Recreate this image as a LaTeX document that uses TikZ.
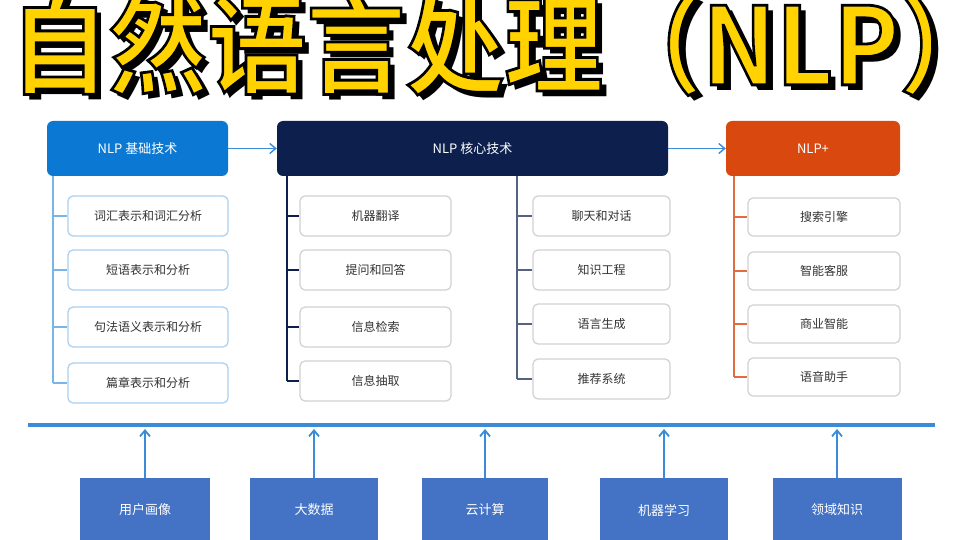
\documentclass[tikz,border=0pt]{standalone}
\usepackage{fontspec}
\setmainfont{Noto Sans CJK SC}
\newfontfamily\cjkb{Noto Sans CJK SC}[BoldFont=* Bold]
\usetikzlibrary{arrows.meta}
\definecolor{cblue}{HTML}{0B78D4}
\definecolor{cnavy}{HTML}{0C1F4D}
\definecolor{corange}{HTML}{D9480F}
\definecolor{cline}{HTML}{3A8BD8}
\definecolor{cbox}{HTML}{4472C4}
\definecolor{cyel}{HTML}{FFD200}
\begin{document}
\begin{tikzpicture}[x=1pt,y=-1pt,
 head/.style={rounded corners=6pt,text=white,font=\fontsize{13}{15}\selectfont,inner sep=0},
 child/.style={rounded corners=5pt,fill=white,draw=#1,line width=1.2pt,font=\fontsize{12}{14}\selectfont,text=black!80,inner sep=0},
 spine/.style={line width=1.6pt,draw=#1},
 bot/.style={fill=cbox,text=white,font=\fontsize{13}{15}\selectfont,inner sep=0},
 arr/.style={-{Straight Barb[length=6pt,width=10pt]},line width=1.8pt,draw=cline},
 ttl/.style={anchor=center,inner sep=0,xscale=1.03,yscale=1.12,font=\cjkb\bfseries\fontsize{96}{100}\selectfont}]
\useasboundingbox (0,0) rectangle (960,540);
\fill[white] (0,0) rectangle (960,540);
% title
\node[ttl,text=black] (tshadow) at (510,50) {自然语言处理（NLP）};
\node[ttl,text=cyel] (title) at (504,44) {\special{pdf:literal direct 2 Tr 2.5 w 0 0 0 RG}自然语言处理（NLP）\special{pdf:literal direct 0 Tr}};
% headers
\node[head,fill=cblue,minimum width=181pt,minimum height=55pt] (h1) at (137.5,148.5) {NLP 基础技术};
\node[head,fill=cnavy,minimum width=391pt,minimum height=55pt] (h2) at (472.5,148.5) {NLP 核心技术};
\node[head,fill=corange,minimum width=174pt,minimum height=55pt] (h3) at (813,148.5) {NLP+};
\draw[arr,line width=1.4pt] (h1) -- (h2);
\draw[arr,line width=1.4pt] (h2) -- (h3);
% column 1
\coordinate (s1) at (53,176);
\foreach \t [count=\i] in {词汇表示和词汇分析,短语表示和分析,句法语义表示和分析,篇章表示和分析}{
  \pgfmathsetmacro\yy{{216,270,327,383}[\i-1]}
  \node[child=cblue!35,minimum width=160pt,minimum height=40pt] (a\i) at (148,\yy) {\t};
  \draw[spine=cblue!55] (53,\yy) -- (a\i.west);
}
\draw[spine=cblue!55] (s1) -- (53,383);
% column 2a
\coordinate (s2) at (287,176);
\foreach \t [count=\i] in {机器翻译,提问和回答,信息检索,信息抽取}{
  \pgfmathsetmacro\yy{{216,270,327,381}[\i-1]}
  \node[child=black!18,minimum width=151pt,minimum height=40pt] (b\i) at (375.5,\yy) {\t};
  \draw[spine=cnavy] (287,\yy) -- (b\i.west);
}
\draw[spine=cnavy] (s2) -- (287,381);
% column 2b
\coordinate (s3) at (517,176);
\foreach \t [count=\i] in {聊天和对话,知识工程,语言生成,推荐系统}{
  \pgfmathsetmacro\yy{{216,270,324,379}[\i-1]}
  \node[child=black!18,minimum width=137pt,minimum height=40pt] (c\i) at (601.5,\yy) {\t};
  \draw[spine=cnavy!70] (517,\yy) -- (c\i.west);
}
\draw[spine=cnavy!70] (s3) -- (517,379);
% column 3
\coordinate (s4) at (734,176);
\foreach \t [count=\i] in {搜索引擎,智能客服,商业智能,语音助手}{
  \pgfmathsetmacro\yy{{217,271,324,377}[\i-1]}
  \node[child=black!18,minimum width=152pt,minimum height=38pt] (d\i) at (824,\yy) {\t};
  \draw[spine=corange!80] (734,\yy) -- (d\i.west);
}
\draw[spine=corange!80] (s4) -- (734,377);
% base line
\draw[line width=4pt,draw=cline] (28,425) coordinate (L0) -- (935,425) coordinate (L1);
% bottom boxes
\foreach \t/\x/\w [count=\i] in {用户画像/145/130,大数据/314/128,云计算/485/126,机器学习/664/128,领域知识/837/129}{
  \node[bot,minimum width=\w pt,minimum height=64pt] (e\i) at (\x,510) {\t};
  \coordinate (t\i) at (\x,429);
  \draw[arr] (e\i.north) -- (t\i);
}
\end{tikzpicture}
\end{document}
